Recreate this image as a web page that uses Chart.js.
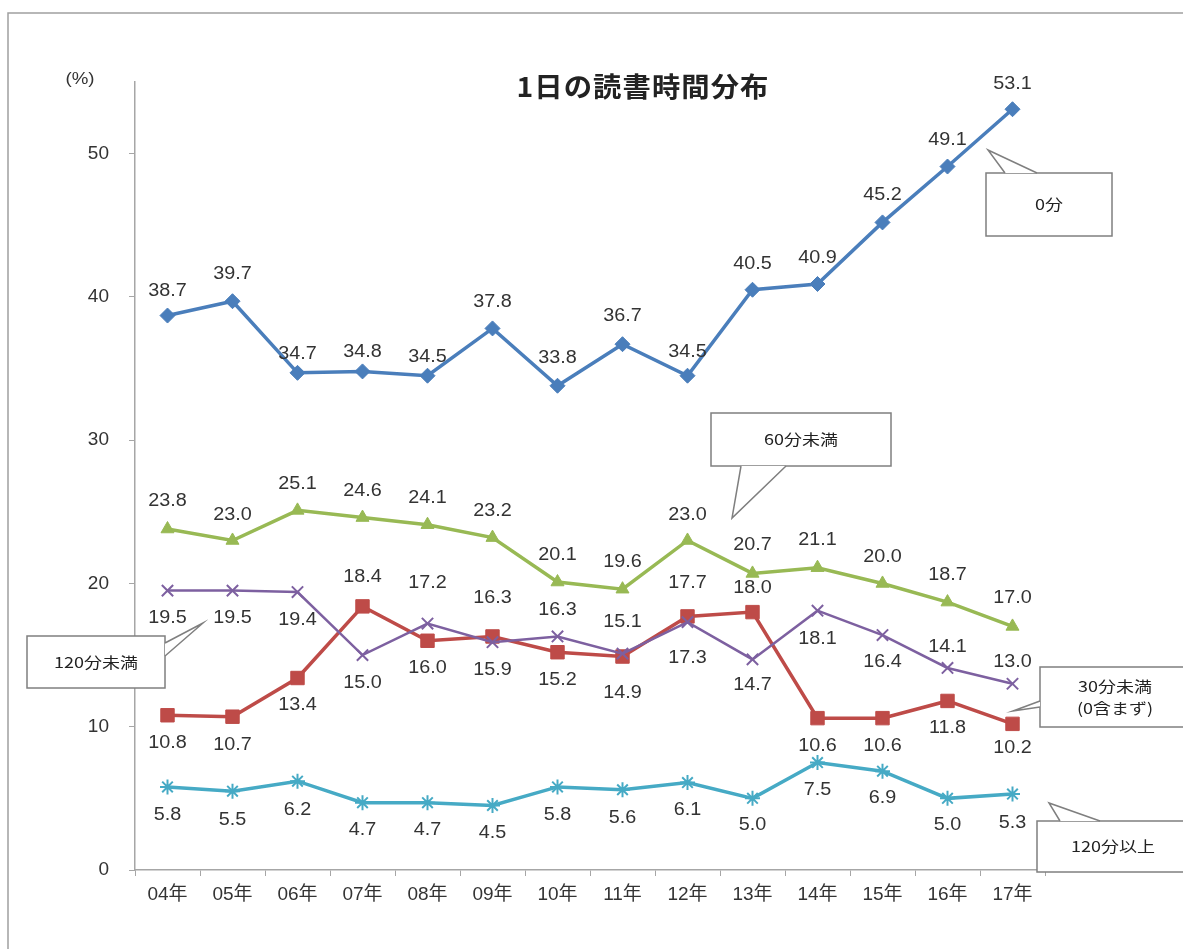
<!DOCTYPE html>
<html>
<head>
<meta charset="utf-8">
<script src="https://cdn.jsdelivr.net/npm/chart.js@4.4.1/dist/chart.umd.min.js"></script>
<style>
  html, body { margin: 0; padding: 0; background: #fff; }
  #wrap { width: 1183px; height: 949px; }
</style>
</head>
<body>
<div id="wrap"><canvas id="chart"></canvas></div>
<script>
  // Categories and series (values in %)
  var years = ['04年', '05年', '06年', '07年', '08年', '09年', '10年', '11年', '12年', '13年', '14年', '15年', '16年', '17年'];
  var zeroMin   = [38.7, 39.7, 34.7, 34.8, 34.5, 37.8, 33.8, 36.7, 34.5, 40.5, 40.9, 45.2, 49.1, 53.1];
  var under30   = [10.8, 10.7, 13.4, 18.4, 16.0, 16.3, 15.2, 14.9, 17.7, 18.0, 10.6, 10.6, 11.8, 10.2];
  var under60   = [23.8, 23.0, 25.1, 24.6, 24.1, 23.2, 20.1, 19.6, 23.0, 20.7, 21.1, 20.0, 18.7, 17.0];
  var under120  = [19.5, 19.5, 19.4, 15.0, 17.2, 15.9, 16.3, 15.1, 17.3, 14.7, 18.1, 16.4, 14.1, 13.0];
  var over120   = [5.8, 5.5, 6.2, 4.7, 4.7, 4.5, 5.8, 5.6, 6.1, 5.0, 7.5, 6.9, 5.0, 5.3];
  var yTicks    = [0, 10, 20, 30, 40, 50];

  // Vertical nudge of each value label relative to its point (px, negative = above)
  var zeroMinLabelDy  = [-25, -27, -19, -19, -19, -26, -28, -28, -24, -26, -26, -27, -26, -25];
  var under30LabelDy  = [28, 28, 27, -29, 27, -38, 28, 37, -33, -24, 28, 28, 27, 24];
  var under60LabelDy  = [-28, -25, -26, -27, -27, -27, -27, -27, -25, -28, -28, -26, -27, -28];
  var under120LabelDy = [27, 27, 28, 28, -41, 28, -26, -32, 36, 26, 28, 27, -21, -22];
  var over120LabelDy  = [28, 29, 29, 27, 27, 28, 28, 28, 27, 27, 27, 27, 27, 29];

  // Callout boxes naming each series
  var callouts = [
    { lines: ['0分'], x: 986, y: 173, w: 126, h: 63, base: [[1005, 173], [1037, 173]], tip: [988, 150] },
    { lines: ['60分未満'], x: 711, y: 413, w: 180, h: 53, base: [[741, 466], [786, 466]], tip: [732, 518] },
    { lines: ['120分未満'], x: 27, y: 636, w: 138, h: 52, base: [[165, 643], [165, 656]], tip: [203, 623] },
    { lines: ['30分未満', '(0含まず)'], x: 1040, y: 667, w: 150, h: 60, base: [[1040, 701], [1040, 707]], tip: [1013, 711] },
    { lines: ['120分以上'], x: 1037, y: 821, w: 152, h: 51, base: [[1060, 821], [1100, 821]], tip: [1049, 803] }
  ];

  var FONT = "'Liberation Sans', 'Noto Sans CJK JP', sans-serif";
  var JP_FONT = "'Noto Sans CJK JP', 'Liberation Sans', sans-serif";
  var AXIS_GRAY = '#a6a6a6';

  function drawText(ctx, text, x, y, font, sx, color) {
    ctx.save();
    ctx.font = font;
    ctx.fillStyle = color || '#333';
    ctx.textAlign = 'center';
    ctx.textBaseline = 'middle';
    ctx.translate(x, y);
    ctx.scale(sx, 1);
    ctx.fillText(text, 0, 0);
    ctx.restore();
  }

  function drawCallout(ctx, c) {
    ctx.save();
    ctx.fillStyle = '#fff';
    ctx.strokeStyle = '#7f7f7f';
    ctx.lineWidth = 1.5;
    ctx.fillRect(c.x, c.y, c.w, c.h);
    ctx.strokeRect(c.x, c.y, c.w, c.h);
    ctx.beginPath();
    ctx.moveTo(c.base[0][0], c.base[0][1]);
    ctx.lineTo(c.tip[0], c.tip[1]);
    ctx.lineTo(c.base[1][0], c.base[1][1]);
    ctx.closePath();
    ctx.fill();
    ctx.beginPath();
    ctx.moveTo(c.base[0][0], c.base[0][1]);
    ctx.lineTo(c.tip[0], c.tip[1]);
    ctx.lineTo(c.base[1][0], c.base[1][1]);
    ctx.stroke();
    ctx.restore();
    var cx = c.x + c.w / 2;
    var lh = 22;
    var y0 = c.y + c.h / 2 - (c.lines.length - 1) * lh / 2;
    c.lines.forEach(function (line, i) {
      drawText(ctx, line, cx, y0 + i * lh, '15px ' + JP_FONT, 1.2, '#222');
    });
  }

  var decorPlugin = {
    id: 'decor',
    beforeDraw: function (chart) {
      var ctx = chart.ctx;
      ctx.save();
      ctx.fillStyle = '#fff';
      ctx.fillRect(0, 0, chart.width, chart.height);
      ctx.strokeStyle = '#a0a0a0';
      ctx.lineWidth = 1.5;
      ctx.beginPath();
      ctx.moveTo(8, chart.height);
      ctx.lineTo(8, 13);
      ctx.lineTo(chart.width, 13);
      ctx.stroke();
      ctx.restore();
    },
    afterDatasetsDraw: function (chart) {
      var ctx = chart.ctx;
      var offsets = [zeroMinLabelDy, under30LabelDy, under60LabelDy, under120LabelDy, over120LabelDy];
      chart.data.datasets.forEach(function (ds, di) {
        var meta = chart.getDatasetMeta(di);
        meta.data.forEach(function (pt, i) {
          drawText(ctx, ds.data[i].toFixed(1), pt.x, pt.y + offsets[di][i], '18px ' + FONT, 1.1, '#333');
        });
      });
    },
    afterDraw: function (chart) {
      var ctx = chart.ctx;
      ctx.save();
      if ('letterSpacing' in ctx) { ctx.letterSpacing = '1px'; }
      drawText(ctx, '1日の読書時間分布', 643, 87, 'bold 27px ' + JP_FONT, 1.05, '#222');
      ctx.restore();
      drawText(ctx, '(%)', 80, 79, '17px ' + FONT, 1.1, '#333');
      callouts.forEach(function (c) { drawCallout(ctx, c); });
    }
  };

  function series(label, data, color, style, radius, lineWidth, pointBorderWidth, order) {
    return {
      label: label,
      data: data,
      borderColor: color,
      backgroundColor: color,
      pointBackgroundColor: color,
      pointBorderColor: color,
      pointStyle: style,
      pointRadius: radius,
      pointHoverRadius: radius,
      pointBorderWidth: pointBorderWidth,
      borderWidth: lineWidth,
      tension: 0,
      fill: false,
      order: order
    };
  }

  new Chart(document.getElementById('chart'), {
    type: 'line',
    data: {
      labels: years,
      datasets: [
        series('0分', zeroMin, '#4a7ebb', 'rectRot', 7.5, 3.5, 1, 2),
        series('30分未満(0含まず)', under30, '#be4b48', 'rect', 9.5, 3.5, 1, 1),
        series('60分未満', under60, '#98b954', 'triangle', 7.5, 3.5, 1, 3),
        series('120分未満', under120, '#7d60a0', 'crossRot', 8, 2.5, 2, 0),
        series('120分以上', over120, '#46aac5', 'star', 7.5, 3.5, 2, 4)
      ]
    },
    options: {
      responsive: true,
      maintainAspectRatio: false,
      animation: false,
      events: [],
      layout: { padding: { left: 0, top: 82, right: 138, bottom: 0 } },
      plugins: {
        legend: { display: false },
        title: { display: false },
        tooltip: { enabled: false }
      },
      scales: {
        x: {
          type: 'category',
          offset: true,
          afterFit: function (scale) { scale.height = 79; },
          grid: { display: true, offset: true, drawOnChartArea: false, drawTicks: true, tickLength: 6, color: AXIS_GRAY, lineWidth: 1 },
          border: { display: true, color: AXIS_GRAY, width: 1.5 },
          ticks: { color: '#333', font: { size: 19, family: FONT }, padding: 7, maxRotation: 0, autoSkip: false }
        },
        y: {
          min: yTicks[0],
          max: 55,
          afterFit: function (scale) { scale.width = 135; },
          afterBuildTicks: function (scale) {
            scale.ticks = yTicks.map(function (v) { return { value: v }; });
          },
          grid: { display: true, drawOnChartArea: false, drawTicks: true, tickLength: 6, color: AXIS_GRAY, lineWidth: 1 },
          border: { display: true, color: AXIS_GRAY, width: 1.5 },
          ticks: { color: '#333', font: { size: 19, family: FONT }, padding: 20 }
        }
      }
    },
    plugins: [decorPlugin]
  });
</script>
</body>
</html>
